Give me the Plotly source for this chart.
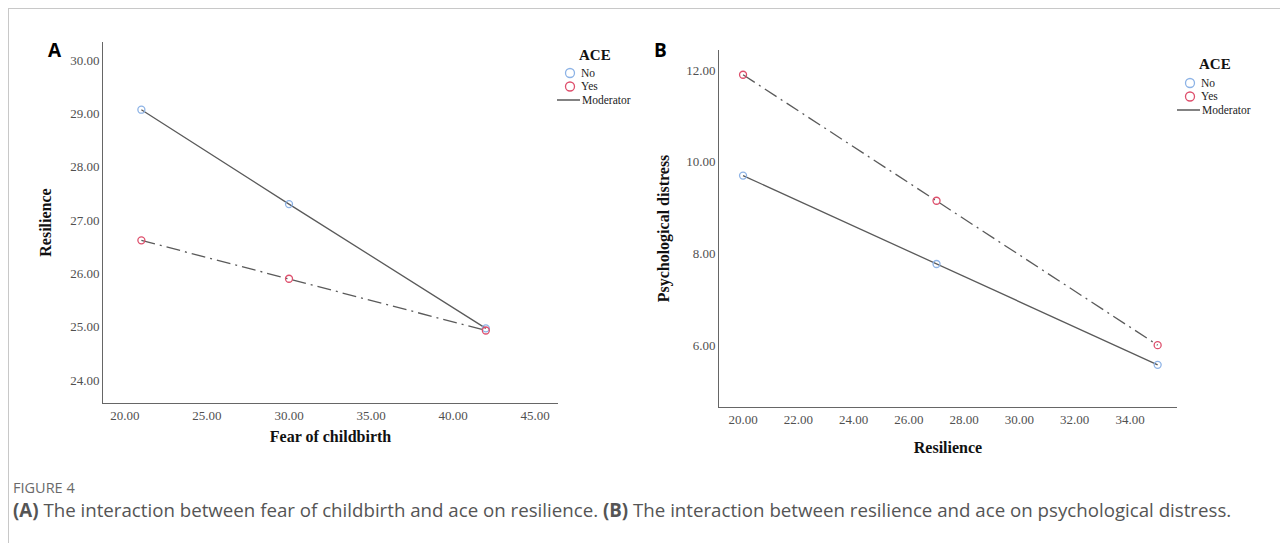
import plotly.graph_objects as go

# ---- data ----
fear_x = [21, 30, 42]
res_no = [29.07, 27.30, 24.97]
res_yes = [26.62, 25.90, 24.93]

res_x = [20, 27, 35]
pd_no = [9.70, 7.77, 5.57]
pd_yes = [11.90, 9.15, 6.00]

# page has an 8px body margin; figure occupies the rest
OFF = 8
W, H = 1288 - OFF, 543 - OFF
def px(x): return (x - OFF) / W
def py(y): return 1 - (y - OFF) / H

LINE = "#5a5a5a"
BLUE = "#8db3e6"
RED = "#de4f6c"
SERIF = "Liberation Serif"
DASHDOT = "14px,5px,2px,5px"

fig = go.Figure()

def add(xs, ys, color, dash, xa, ya):
    fig.add_trace(go.Scatter(x=xs, y=ys, mode="lines", line=dict(color=LINE, width=1.3, dash=dash),
                             xaxis=xa, yaxis=ya, showlegend=False, hoverinfo="skip"))
    fig.add_trace(go.Scatter(x=xs, y=ys, mode="markers",
                             marker=dict(symbol="circle-open", size=7, color=color, line=dict(width=1.3, color=color)),
                             xaxis=xa, yaxis=ya, showlegend=False))

add(fear_x, res_no, BLUE, "solid", "x", "y")
add(fear_x, res_yes, RED, DASHDOT, "x", "y")
add(res_x, pd_no, BLUE, "solid", "x2", "y2")
add(res_x, pd_yes, RED, DASHDOT, "x2", "y2")

axis_common = dict(showline=True, linecolor="#666", linewidth=1, showgrid=False, zeroline=False,
                   ticks="", tickfont=dict(family=SERIF, size=13, color="#505050"), tickformat=".2f",
                   title_font=dict(family=SERIF, size=16, color="#111"))

fig.update_layout(
    width=W, height=H, margin=dict(l=0, r=0, t=0, b=0),
    paper_bgcolor="white", plot_bgcolor="white", showlegend=False,
    xaxis=dict(axis_common, domain=[px(103), px(558)], range=[18.66, 46.4], tickvals=[20, 25, 30, 35, 40, 45],
               anchor="y", title=dict(text="<b>Fear of childbirth</b>", standoff=9)),
    yaxis=dict(axis_common, domain=[py(403), py(42)], range=[23.57, 30.34], tickvals=[24, 25, 26, 27, 28, 29, 30],
               anchor="x", title=dict(text="<b>Resilience</b>", standoff=14)),
    xaxis2=dict(axis_common, domain=[px(719), px(1177)], range=[19.13, 35.7], tickvals=[20, 22, 24, 26, 28, 30, 32, 34],
                anchor="y2", title=dict(text="<b>Resilience</b>", standoff=16)),
    yaxis2=dict(axis_common, domain=[py(407), py(50)], range=[4.65, 12.44], tickvals=[6, 8, 10, 12],
                anchor="x2", title=dict(text="<b>Psychological distress</b>", standoff=12)),
)

ann = []
shapes = []

# frame lines
shapes.append(dict(type="line", xref="paper", yref="paper", x0=0, x1=1, y0=py(8.5), y1=py(8.5),
                   line=dict(color="#c8c8c8", width=1)))
shapes.append(dict(type="line", xref="paper", yref="paper", x0=px(8.5), x1=px(8.5), y0=py(8), y1=0,
                   line=dict(color="#c8c8c8", width=1)))

def legend(x_circle, y_title, y0, dy, x_title):
    ann.append(dict(x=px(x_title), y=py(y_title), xref="paper", yref="paper", text="<b>ACE</b>", showarrow=False,
                    font=dict(family=SERIF, size=15, color="#111"), xanchor="center", yanchor="middle"))
    r = 4.5
    for i, (lab, col) in enumerate([("No", BLUE), ("Yes", RED)]):
        yc = y0 + i * dy
        shapes.append(dict(type="circle", xref="paper", yref="paper",
                           x0=px(x_circle - r), x1=px(x_circle + r), y0=py(yc + r), y1=py(yc - r),
                           line=dict(color=col, width=1.3)))
        ann.append(dict(x=px(x_circle + 9), y=py(yc), xref="paper", yref="paper", text=lab, showarrow=False,
                        font=dict(family=SERIF, size=11.5, color="#222"), xanchor="left", yanchor="middle"))
    yl = y0 + 2 * dy
    shapes.append(dict(type="line", xref="paper", yref="paper", x0=px(x_circle - 13), x1=px(x_circle + 10),
                       y0=py(yl), y1=py(yl), line=dict(color=LINE, width=1.5)))
    ann.append(dict(x=px(x_circle + 10), y=py(yl), xref="paper", yref="paper", text="Moderator", showarrow=False,
                    font=dict(family=SERIF, size=11.5, color="#222"), xanchor="left", yanchor="middle"))

legend(570, 55, 73, 13.5, 595)
legend(1190, 64, 83, 13.5, 1215)

# panel labels
ann.append(dict(x=px(55), y=py(50), xref="paper", yref="paper", text="<b>A</b>", showarrow=False,
                font=dict(family="Open Sans", size=19, color="#000"), xanchor="center", yanchor="middle"))
ann.append(dict(x=px(660), y=py(50), xref="paper", yref="paper", text="<b>B</b>", showarrow=False,
                font=dict(family="Open Sans", size=19, color="#000"), xanchor="center", yanchor="middle"))

# caption
ann.append(dict(x=px(11), y=py(487), xref="paper", yref="paper", text="FIGURE 4", showarrow=False,
                font=dict(family="Open Sans", size=14.5, color="#6a6a6a"), xanchor="left", yanchor="middle"))
ann.append(dict(x=px(11), y=py(509), xref="paper", yref="paper",
                text="<b>(A)</b> The interaction between fear of childbirth and ace on resilience. <b>(B)</b> The interaction between resilience and ace on psychological distress.",
                showarrow=False, font=dict(family="Open Sans", size=18.7, color="#555"), xanchor="left", yanchor="middle"))

fig.update_layout(annotations=ann, shapes=shapes)
fig.write_html("out.html")
